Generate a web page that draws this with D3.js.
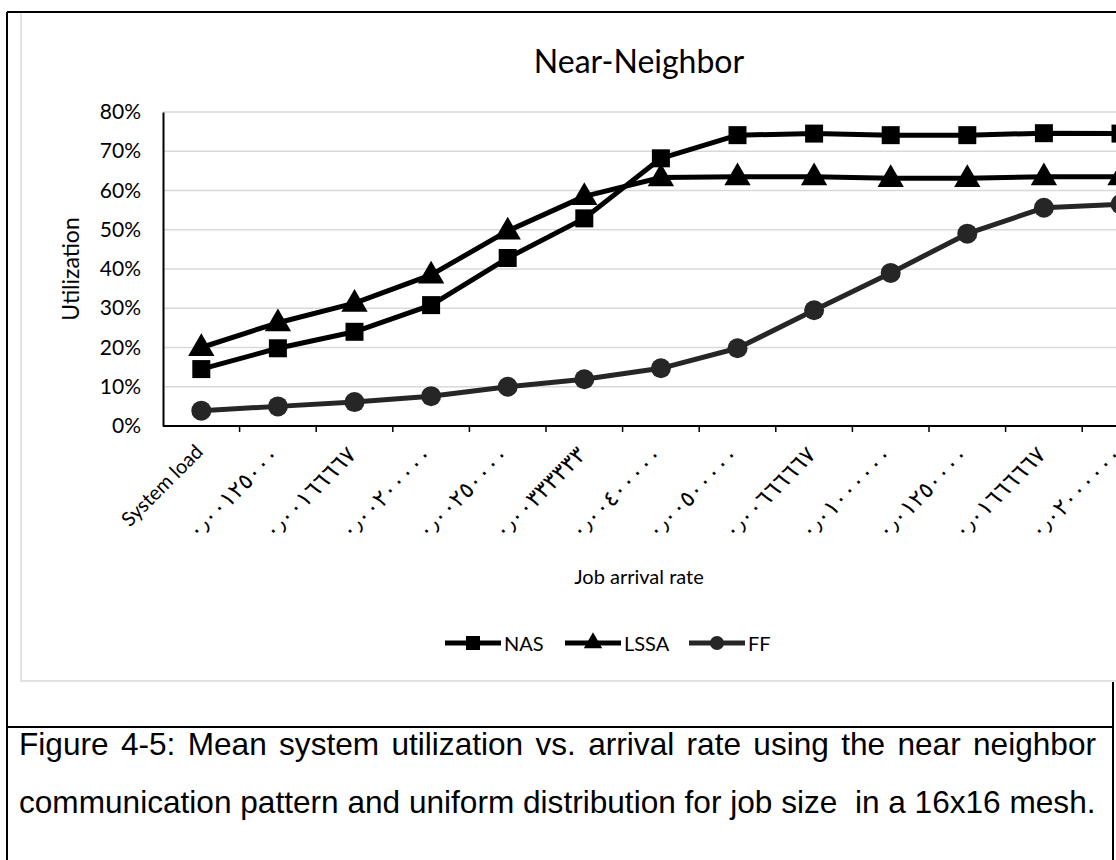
<!DOCTYPE html>
<html>
<head>
<meta charset="utf-8">
<script src="https://cdn.jsdelivr.net/npm/d3@7"></script>
<style>
	body { margin: 0; background: #fff; }
	svg { display: block; }
</style>
</head>
<body>
<script>
// categories along the x axis (job arrival rate)
const categories = [
	"System load",
	"٠٫٠٠١٢٥٠٠٠",
	"٠٫٠٠١٦٦٦٦٧",
	"٠٫٠٠٢٠٠٠٠٠",
	"٠٫٠٠٢٥٠٠٠٠",
	"٠٫٠٠٣٣٣٣٣٣",
	"٠٫٠٠٤٠٠٠٠٠",
	"٠٫٠٠٥٠٠٠٠٠",
	"٠٫٠٠٦٦٦٦٦٧",
	"٠٫٠١٠٠٠٠٠٠",
	"٠٫٠١٢٥٠٠٠٠",
	"٠٫٠١٦٦٦٦٦٧",
	"٠٫٠٢٠٠٠٠٠٠"
];
// utilization values
const nas = [0.145, 0.198, 0.24, 0.308, 0.428, 0.529, 0.682, 0.741, 0.745, 0.741, 0.741, 0.746, 0.745];
const lssa = [0.2, 0.263, 0.313, 0.385, 0.497, 0.585, 0.633, 0.635, 0.635, 0.631, 0.631, 0.635, 0.635];
const ff = [0.039, 0.05, 0.061, 0.076, 0.1, 0.119, 0.147, 0.198, 0.295, 0.39, 0.49, 0.556, 0.565];
const yTicks = [0, 0.1, 0.2, 0.3, 0.4, 0.5, 0.6, 0.7, 0.8];
const seriesNames = ["NAS", "LSSA", "FF"];

const chartFont = "Lato, 'DejaVu Sans', sans-serif";
const width = 1116;
const height = 860;

const svg = d3.select("body")
	.append("svg")
	.attr("width", width)
	.attr("height", height);

// chart area (it runs past the right edge of the page)
svg.append("rect")
	.attr("x", 21)
	.attr("y", 12)
	.attr("width", 1300)
	.attr("height", 669)
	.attr("fill", "#fff")
	.attr("stroke", "#d9d9d9")
	.attr("stroke-width", 1.5);

const x = d3.scaleBand()
	.domain(categories)
	.range([163, 163 + 76.6 * categories.length])
	.padding(0);
const y = d3.scaleLinear()
	.domain([0, 0.8])
	.range([426, 112]);
const cx = (d) => x(d) + x.bandwidth() / 2;

// gridlines
svg.append("g")
	.selectAll("line")
	.data(yTicks.slice(1))
	.enter()
	.append("line")
	.attr("x1", 163)
	.attr("x2", width)
	.attr("y1", (d) => y(d))
	.attr("y2", (d) => y(d))
	.attr("stroke", "#d9d9d9")
	.attr("stroke-width", 1.5);

// y axis
const yAxis = svg.append("g")
	.attr("transform", "translate(163,0)")
	.call(d3.axisLeft(y).tickValues(yTicks).tickSize(0).tickPadding(22).tickFormat(d3.format(".0%")));
yAxis.select(".domain").attr("stroke", "#000").attr("stroke-width", 2);
yAxis.selectAll("text")
	.attr("font-family", chartFont)
	.attr("font-size", 21)
	.attr("fill", "#000");

// x axis line + ticks on category boundaries
svg.append("line")
	.attr("x1", 163)
	.attr("x2", width)
	.attr("y1", y(0))
	.attr("y2", y(0))
	.attr("stroke", "#000")
	.attr("stroke-width", 2);
svg.append("g")
	.selectAll("line")
	.data(categories)
	.enter()
	.append("line")
	.attr("x1", (d) => x(d) + x.bandwidth())
	.attr("x2", (d) => x(d) + x.bandwidth())
	.attr("y1", y(0))
	.attr("y2", y(0) + 6)
	.attr("stroke", "#000")
	.attr("stroke-width", 1.5);

svg.append("g")
	.selectAll("text")
	.data(categories)
	.enter()
	.append("text")
	.attr("transform", (d, i) => (i == 0
		? `translate(${cx(d) + 3},453) rotate(-45)`
		: `translate(${cx(d) + 3},456) rotate(-45)`))
	.attr("text-anchor", "end")
	.attr("font-family", (d, i) => (i == 0 ? chartFont : "'DejaVu Sans', sans-serif"))
	.attr("font-size", (d, i) => (i == 0 ? 20 : 23))
	.attr("fill", "#000")
	.text((d) => d);

// series
const series = [
	{ name: "NAS", values: nas, color: "#000", shape: "square" },
	{ name: "LSSA", values: lssa, color: "#000", shape: "triangle" },
	{ name: "FF", values: ff, color: "#262626", shape: "circle" }
];

const markerPath = (shape, s) => {
	if (shape == "square") return d3.symbol(d3.symbolSquare, s * s)();
	if (shape == "triangle") return d3.symbol(d3.symbolTriangle, s * s * 0.75)();
	return d3.symbol(d3.symbolCircle, Math.PI * (s / 2) * (s / 2))();
};

const line = d3.line()
	.x((d, i) => cx(categories[i]))
	.y((d) => y(d));

series.forEach((s) => {
	svg.append("path")
		.datum(s.values)
		.attr("d", line)
		.attr("fill", "none")
		.attr("stroke", s.color)
		.attr("stroke-width", 5)
		.attr("stroke-linejoin", "round");
	svg.append("g")
		.selectAll("path")
		.data(s.values)
		.enter()
		.append("path")
		.attr("d", markerPath(s.shape, s.shape == "square" ? 18 : 20))
		.attr("transform", (d, i) => `translate(${cx(categories[i])},${y(d) + (s.shape == "triangle" ? 1 : 0)})`)
		.attr("fill", s.color);
});

// titles
svg.append("text")
	.attr("x", 639)
	.attr("y", 73)
	.attr("text-anchor", "middle")
	.attr("font-family", chartFont)
	.attr("font-size", 32)
	.attr("fill", "#000")
	.text("Near-Neighbor");

svg.append("text")
	.attr("transform", "translate(70,269) rotate(-90)")
	.attr("text-anchor", "middle")
	.attr("dominant-baseline", "central")
	.attr("font-family", chartFont)
	.attr("font-size", 23)
	.attr("fill", "#000")
	.text("Utilization");

svg.append("text")
	.attr("x", 639)
	.attr("y", 576)
	.attr("text-anchor", "middle")
	.attr("dominant-baseline", "central")
	.attr("font-family", chartFont)
	.attr("font-size", 20)
	.attr("fill", "#000")
	.text("Job arrival rate");

// legend
const legendX = [445, 565, 689];
const legend = svg.append("g")
	.selectAll("g")
	.data(series)
	.enter()
	.append("g")
	.attr("transform", (d, i) => `translate(${legendX[i]},643)`);
legend.append("line")
	.attr("x1", 0)
	.attr("x2", 56)
	.attr("stroke", (d) => d.color)
	.attr("stroke-width", 5);
legend.append("path")
	.attr("d", (d) => markerPath(d.shape, 14))
	.attr("transform", "translate(28,0)")
	.attr("fill", (d) => d.color);
legend.append("text")
	.attr("x", 59)
	.attr("dominant-baseline", "central")
	.attr("font-family", chartFont)
	.attr("font-size", 20)
	.attr("fill", "#000")
	.text((d) => d.name);

// table borders around the figure and its caption
const border = svg.append("g").attr("stroke", "#000").attr("stroke-width", 2);
border.append("line").attr("x1", 7).attr("x2", width).attr("y1", 12).attr("y2", 12);
border.append("line").attr("x1", 7).attr("x2", 7).attr("y1", 12).attr("y2", height);
border.append("line").attr("x1", 7).attr("x2", 1113).attr("y1", 727).attr("y2", 727);
border.append("line").attr("x1", 1113).attr("x2", 1113).attr("y1", 682).attr("y2", height);

// caption: first line justified, last line left as is
const captionLines = [
	"Figure 4-5: Mean system utilization vs. arrival rate using the near neighbor",
	"communication pattern and uniform distribution for job size  in a 16x16 mesh."
];
const captionY = [755, 813];
svg.append("g")
	.selectAll("text")
	.data(captionLines)
	.enter()
	.append("text")
	.attr("x", 19)
	.attr("y", (d, i) => captionY[i])
	.attr("font-family", "'Liberation Sans', Arial, sans-serif")
	.attr("font-size", 31.6)
	.attr("fill", "#000")
	.style("white-space", "pre")
	.text((d) => d)
	.each(function (d, i) {
		if (i > 0) return;
		const len = this.getComputedTextLength();
		const spaces = d.split(" ").length - 1;
		const extra = (1096 - 19 - len) / spaces;
		d3.select(this).style("word-spacing", `${extra}px`);
	});
</script>
</body>
</html>
